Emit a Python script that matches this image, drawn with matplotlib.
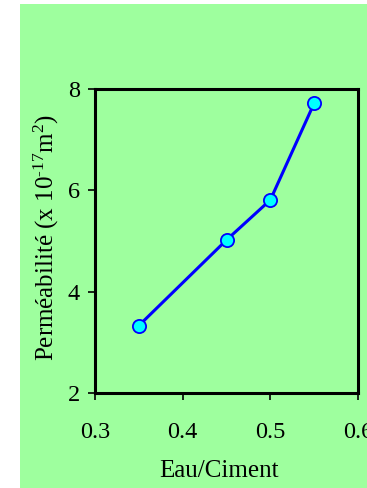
import matplotlib
matplotlib.use('Agg')
import matplotlib.pyplot as plt
from matplotlib.patches import Rectangle

# ---------- Data ----------
eau_ciment = [0.35, 0.45, 0.50, 0.55]
permeabilite = [3.33, 5.02, 5.81, 7.72]
x_ticks = [0.3, 0.4, 0.5, 0.6]
y_ticks = [2, 4, 6, 8]

green = '#9EFF9E'

plt.rcParams['font.family'] = ['Liberation Serif', 'DejaVu Serif']
plt.rcParams['mathtext.fontset'] = 'custom'
plt.rcParams['mathtext.rm'] = 'Liberation Serif'
plt.rcParams['mathtext.it'] = 'Liberation Serif:italic'

fig = plt.figure(figsize=(3.67, 4.88), dpi=100, facecolor='white')

# green chart area (white strip at top and left)
fig.patches.append(Rectangle((20 / 367, 0), 1, 1 - 4 / 488, transform=fig.transFigure,
                             facecolor=green, edgecolor='none', zorder=-10))

ax = fig.add_axes([95 / 367, 1 - 393 / 488, (358 - 95) / 367, (393 - 89) / 488])
ax.set_facecolor(green)

ax.plot(eau_ciment, permeabilite, color='#0000FF', linewidth=2.2,
        marker='o', markersize=9.5, markerfacecolor='#00FFFF',
        markeredgecolor='#0000FF', markeredgewidth=1.3, clip_on=False)

ax.set_xlim(0.3, 0.6)
ax.set_ylim(2, 8)
ax.set_xticks(x_ticks)
ax.set_yticks(y_ticks)
ax.set_xticklabels([f'{v:.1f}' for v in x_ticks])
ax.set_yticklabels([str(v) for v in y_ticks])

for s in ax.spines.values():
    s.set_linewidth(2.2)
    s.set_color('black')

ax.tick_params(axis='both', direction='out', length=5, width=1.2, labelsize=17.5, colors='black')
ax.tick_params(axis='x', pad=16)
ax.tick_params(axis='y', pad=6)

ax.set_xlabel('Eau/Ciment', fontsize=18)
ax.xaxis.set_label_coords(0.471, -0.22)
ax.set_ylabel(r'Perméabilité (x 10$^{\text{-17}}$m$^{\mathrm{2}}$)', fontsize=18)
ax.yaxis.set_label_coords(-0.13, 0.51)

fig.savefig('out.png', dpi=100, facecolor='white')
